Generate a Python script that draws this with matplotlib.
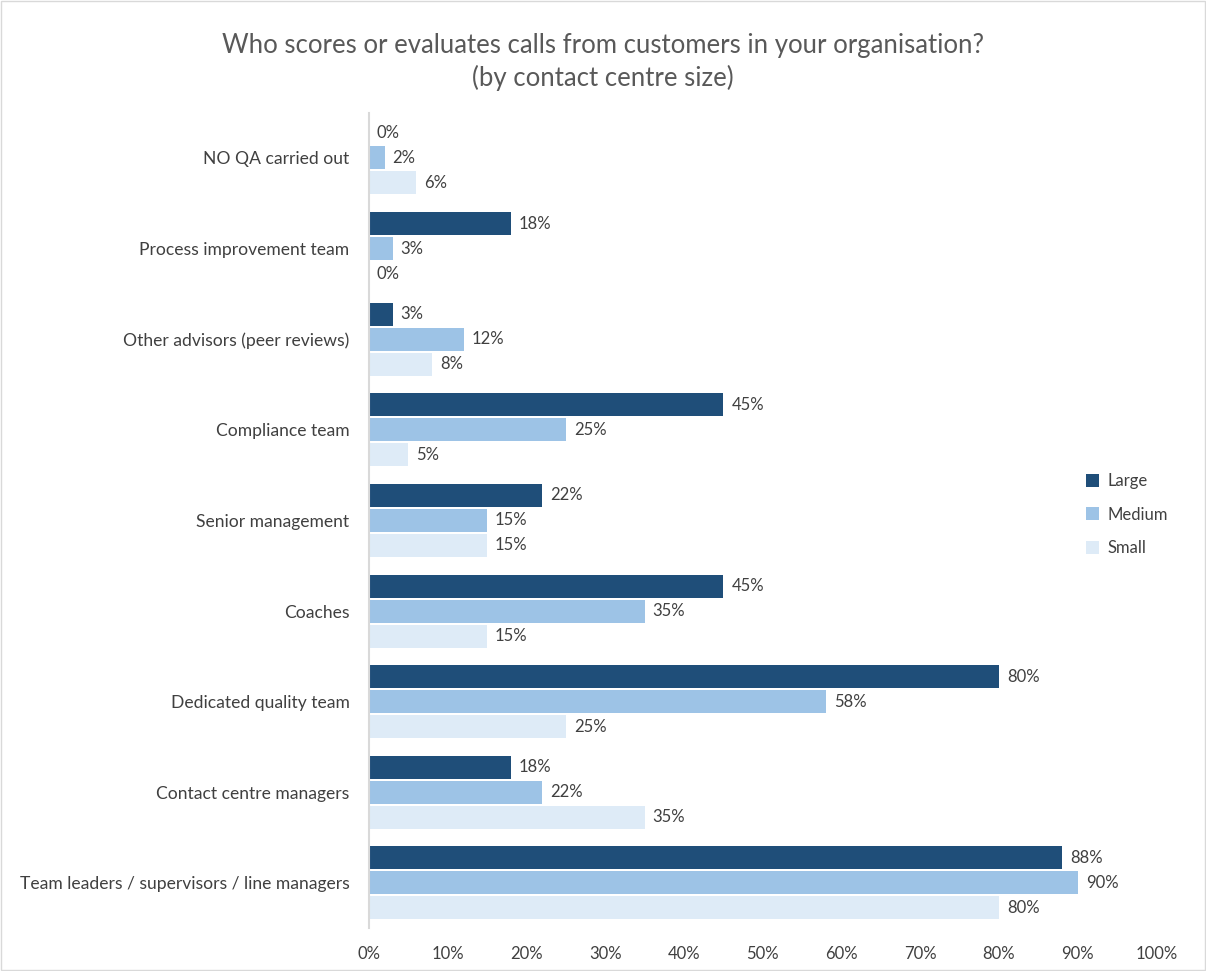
import numpy as np
import matplotlib.pyplot as plt
from matplotlib.patches import Rectangle

plt.rcParams['font.family'] = ['Lato', 'DejaVu Sans']

# data, top to bottom as shown
categories = ['NO QA carried out', 'Process improvement team', 'Other advisors (peer reviews)',
              'Compliance team', 'Senior management', 'Coaches', 'Dedicated quality team',
              'Contact centre managers', 'Team leaders / supervisors / line managers']
large = [0, 18, 3, 45, 22, 45, 80, 18, 88]
medium = [2, 3, 12, 25, 15, 35, 58, 22, 90]
small = [6, 0, 8, 5, 15, 15, 25, 35, 80]

series = [('Large', large, '#1F4E79'),
          ('Medium', medium, '#9DC3E6'),
          ('Small', small, '#DEEBF7')]

fig = plt.figure(figsize=(12.06, 9.71), dpi=100)
ax = fig.add_axes([0.306, 0.044, 0.653, 0.840])

y = np.arange(len(categories))
step = 0.276
height = 0.254
text_col = '#404040'

for i, (name, vals, col) in enumerate(series):
    pos = y + (i - 1) * step
    ax.barh(pos, vals, height=height, color=col, label=name)
    for p, v in zip(pos, vals):
        ax.text(v + 1.0, p, f'{v}%', va='center', ha='left', fontsize=12, color=text_col)

ax.set_ylim(len(categories) - 0.5, -0.5)
ax.set_xlim(0, 100)
ax.set_yticks(y)
ax.set_yticklabels(categories, fontsize=12.6, color=text_col)
ax.set_xticks(np.arange(0, 101, 10))
ax.set_xticklabels([f'{t}%' for t in range(0, 101, 10)], fontsize=12, color=text_col)
ax.tick_params(axis='both', length=0)
ax.tick_params(axis='y', pad=14)
ax.tick_params(axis='x', pad=13)

for s in ['top', 'right', 'bottom']:
    ax.spines[s].set_visible(False)
ax.spines['left'].set_color('#D9D9D9')
ax.spines['left'].set_linewidth(1.5)

fig.text(0.5, 0.953, 'Who scores or evaluates calls from customers in your organisation?',
         ha='center', va='center', fontsize=18.5, color='#595959')
fig.text(0.5, 0.920, '(by contact centre size)',
         ha='center', va='center', fontsize=18.5, color='#595959')

leg = ax.legend(loc='center left', frameon=False,
                fontsize=12, handlelength=0.8, handleheight=0.8, labelspacing=1.05,
                handletextpad=0.5)
leg.set_bbox_to_anchor((0.888, 0.470), transform=fig.transFigure)
for t in leg.get_texts():
    t.set_color(text_col)

fig.patches.append(Rectangle((0.001, 0.001), 0.998, 0.998, transform=fig.transFigure,
                             fill=False, edgecolor='#D9D9D9', linewidth=1))

fig.savefig('out.png', dpi=100)
